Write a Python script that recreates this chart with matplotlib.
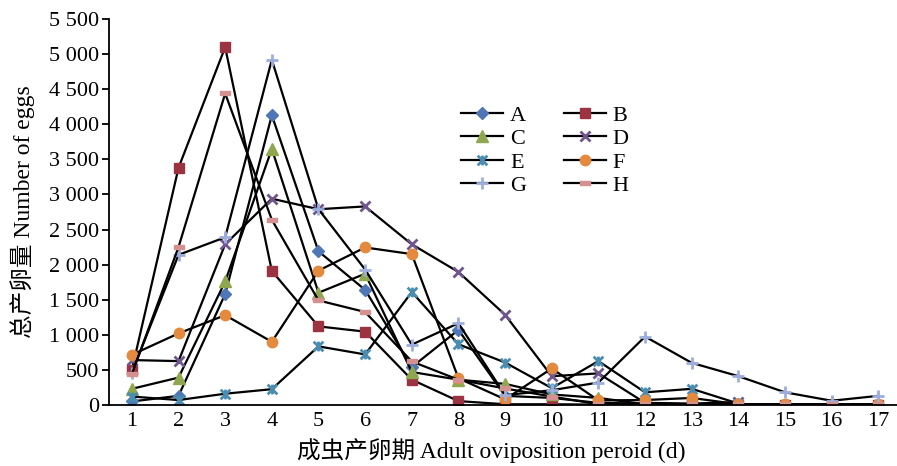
import matplotlib
matplotlib.use("Agg")
import matplotlib.pyplot as plt
from matplotlib.path import Path
from matplotlib.ticker import FuncFormatter

plt.rcParams["font.family"] = ["Liberation Serif", "Noto Sans CJK SC"]

days = list(range(1, 18))

# eggs per day (series end where the line ends)
series_a = [50, 130, 1580, 4130, 2190, 1640, 540, 1070, 130, 100, 30, 20, 10, 10]
series_b = [500, 3380, 5100, 1910, 1120, 1045, 360, 55, 10, 10, 5, 5, 5, 5, 5, 5, 5]
series_c = [230, 390, 1760, 3650, 1600, 1870, 470, 360, 300, 150, 100, 10, 10, 10]
series_d = [640, 625, 2290, 2940, 2790, 2830, 2290, 1895, 1285, 410, 450, 30, 20, 40]
series_e = [120, 70, 160, 225, 835, 720, 1610, 865, 605, 240, 625, 180, 230, 20]
series_f = [715, 1020, 1280, 900, 1915, 2245, 2150, 380, 80, 520, 65, 70, 100, 10, 10, 10, 10]
series_g = [460, 2140, 2390, 4920, 2790, 1930, 860, 1165, 140, 210, 320, 975, 600, 410, 180, 60, 130]
series_h = [440, 2250, 4440, 2640, 1490, 1325, 620, 360, 235, 120, 10, 10, 10, 10, 10, 10, 10]

names = ["A", "B", "C", "D", "E", "F", "G", "H"]
values = [series_a, series_b, series_c, series_d, series_e, series_f, series_g, series_h]

# flat bar for H, x with a vertical stroke for E (excel-like star)
bar_marker = [(-1.0, -0.45), (1.0, -0.45), (1.0, 0.45), (-1.0, 0.45), (-1.0, -0.45)]
star_marker = Path([(-1, -1), (1, 1), (-1, 1), (1, -1), (0, -1), (0, 1)],
                   [Path.MOVETO, Path.LINETO, Path.MOVETO, Path.LINETO, Path.MOVETO, Path.LINETO])
styles = {
    "A": dict(marker="D", color="#4F76B5", ms=6),
    "B": dict(marker="s", color="#9B3340", ms=7),
    "C": dict(marker="^", color="#8FA850", ms=8),
    "D": dict(marker="x", color="#70558E", ms=7.5, mew=2),
    "E": dict(marker=star_marker, color="#4A8DB0", ms=7, mew=2),
    "F": dict(marker="o", color="#E38A3E", ms=7.5),
    "G": dict(marker="+", color="#9DAEDD", ms=9, mew=2),
    "H": dict(marker=bar_marker, color="#D4918F", ms=7),
}

fig = plt.figure(figsize=(8.97, 4.66), dpi=100)
ax = fig.add_axes([0.121, 0.131, 0.879, 0.828])

lines = {}
for name, vals in zip(names, values):
    st = styles[name]
    (ln,) = ax.plot(days[:len(vals)], vals, color="black", lw=1.6,
                    marker=st["marker"], ms=st["ms"], mew=st.get("mew", 1),
                    markerfacecolor=st["color"], markeredgecolor=st["color"],
                    label=name)
    lines[name] = ln

ax.set_xlim(0.5, 17.4)
ax.set_ylim(0, 5500)
ax.set_xticks(days)
ax.set_yticks(range(0, 5501, 500))
ax.yaxis.set_major_formatter(FuncFormatter(lambda v, p: f"{int(v):,}".replace(",", " ")))
ax.tick_params(axis="x", length=0, labelsize=16, pad=5)
ax.tick_params(axis="y", direction="out", length=5, width=1.3, labelsize=16, pad=2)
for s in ["top", "right"]:
    ax.spines[s].set_visible(False)
for s in ["left", "bottom"]:
    ax.spines[s].set_linewidth(1.3)

ax.set_ylabel("总产卵量 Number of eggs", fontsize=17, labelpad=10)
ax.set_xlabel("成虫产卵期 Adult oviposition peroid (d)", fontsize=17)
ax.xaxis.set_label_coords(0.485, -0.085)

# legend fills row by row in the reference: A B / C D / E F / G H
order = ["A", "C", "E", "G", "B", "D", "F", "H"]
leg = ax.legend([lines[n] for n in order], order, ncol=2, loc="upper left",
                bbox_to_anchor=(450 / 897, 1 - 94 / 466),
                bbox_transform=fig.transFigure, frameon=False, fontsize=16,
                handlelength=1.9, handletextpad=0.3, columnspacing=1.7,
                labelspacing=0.13, borderpad=0)

fig.savefig("out.png", dpi=100)
